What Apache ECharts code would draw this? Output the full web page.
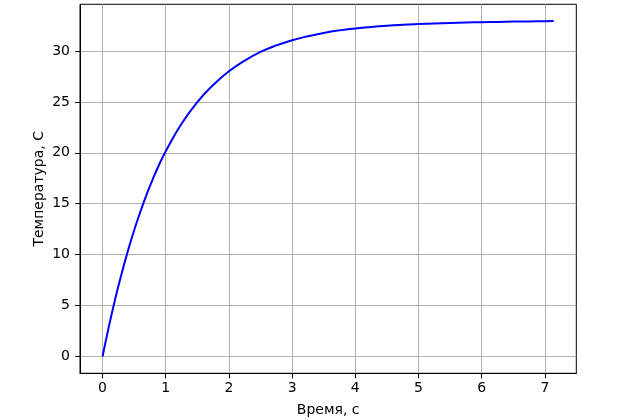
<!DOCTYPE html>
<html>
<head>
<meta charset="utf-8">
<script src="https://cdn.jsdelivr.net/npm/echarts@6/dist/echarts.min.js"></script>
<style>html,body{margin:0;padding:0;background:#fff}#c{width:640px;height:419px}</style>
</head>
<body>
<div id="c"></div>
<script>
// Time, s
const times = [0, 0.1, 0.2, 0.3, 0.4, 0.5, 0.6, 0.7, 0.8, 0.9, 1.0, 1.25, 1.5, 1.75, 2.0, 2.25, 2.5, 2.75, 3.0, 3.25, 3.5, 3.75, 4.0, 4.25, 4.5, 4.75, 5.0, 5.25, 5.5, 5.75, 6.0, 6.25, 6.5, 6.75, 7.0, 7.14];
// Temperature, C
const temps = [0, 2.95, 5.65, 8.1, 10.35, 12.4, 14.25, 15.95, 17.5, 18.9, 20.15, 22.85, 24.98, 26.65, 28.0, 29.05, 29.9, 30.55, 31.05, 31.45, 31.77, 32.02, 32.21, 32.36, 32.48, 32.57, 32.64, 32.7, 32.75, 32.79, 32.82, 32.85, 32.88, 32.9, 32.92, 32.93];
const xTicks = [0, 1, 2, 3, 4, 5, 6, 7];
const yTicks = [0, 5, 10, 15, 20, 25, 30];
const xLabel = 'Время, с';
const yLabel = 'Температура, С';

const font = 'DejaVu Sans';
const chart = echarts.init(document.getElementById('c'), null, {renderer: 'canvas'});
chart.setOption({
  animation: false,
  backgroundColor: '#fff',
  grid: {left: 80, right: 63.7, top: 4.3, bottom: 45.7, containLabel: false, outerBoundsMode: 'none', show: true, borderColor: '#000', borderWidth: 1, backgroundColor: 'transparent'},
  xAxis: {
    type: 'value', min: -0.357, max: 7.497,
    name: xLabel, nameLocation: 'middle', nameGap: 30, nameMoveOverlap: false,
    nameTextStyle: {fontFamily: font, fontSize: 14, color: '#000'},
    axisLine: {show: true, onZero: false, lineStyle: {color: '#000', width: 1}},
    axisTick: {show: true, length: 5, inside: false, customValues: xTicks, lineStyle: {color: '#000', width: 1}},
    axisLabel: {customValues: xTicks, margin: 8, fontFamily: font, fontSize: 14, color: '#000'},
    splitLine: {show: true, lineStyle: {color: '#b0b0b0', width: 1}}
  },
  yAxis: {
    type: 'value', min: -1.646, max: 34.58,
    name: yLabel, nameLocation: 'middle', nameGap: 34, nameRotate: 90, nameMoveOverlap: false,
    nameTextStyle: {fontFamily: font, fontSize: 14, color: '#000'},
    axisLine: {show: true, onZero: false, lineStyle: {color: '#000', width: 1}},
    axisTick: {show: true, length: 5, inside: false, customValues: yTicks, lineStyle: {color: '#000', width: 1}},
    axisLabel: {customValues: yTicks, margin: 10, fontFamily: font, fontSize: 14, color: '#000'},
    splitLine: {show: true, lineStyle: {color: '#b0b0b0', width: 1}}
  },
  series: [{
    type: 'line',
    data: times.map((t, i) => [t, temps[i]]),
    smooth: true,
    showSymbol: false,
    lineStyle: {color: '#0000ff', width: 2},
    itemStyle: {color: '#0000ff'},
    z: 5
  }]
});
</script>
</body>
</html>
